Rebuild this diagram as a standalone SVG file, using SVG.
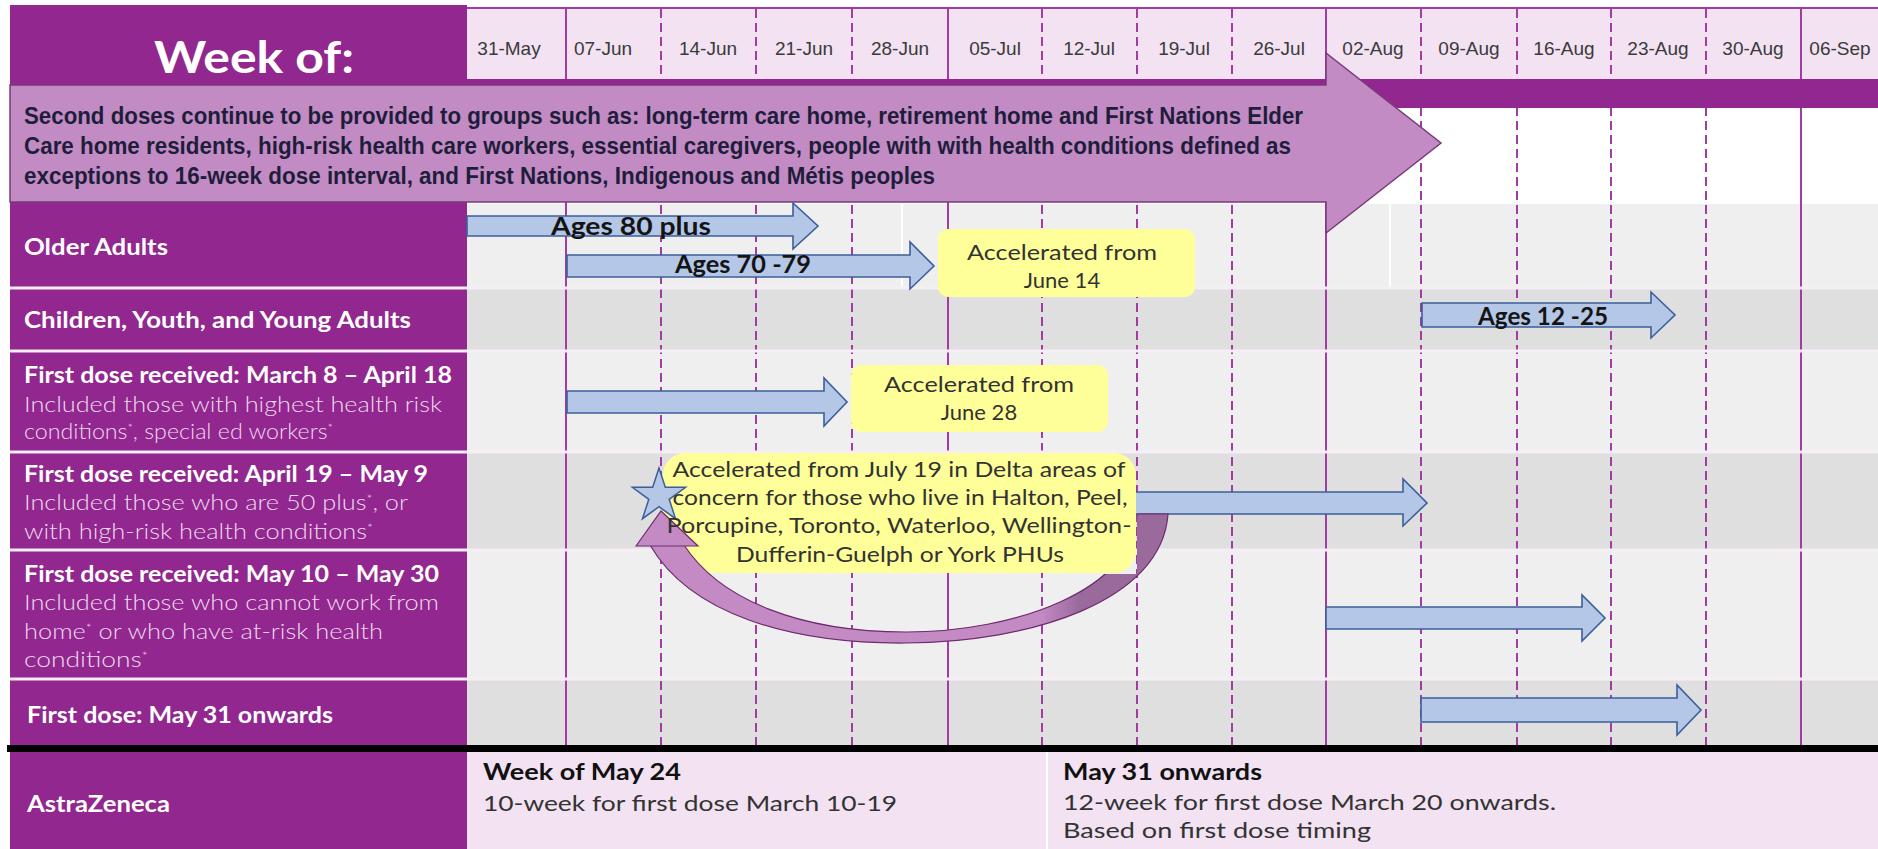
<svg xmlns="http://www.w3.org/2000/svg" width="1878" height="849" viewBox="0 0 1878 849">
<defs>
<style>
.lab{font-family:Lato,"Liberation Sans",sans-serif;font-weight:700;font-size:22px;fill:#ffffff}
.sub{font-family:Lato,"Liberation Sans",sans-serif;font-weight:300;font-size:22px;fill:#ecdaec}
.sup{font-size:12px;baseline-shift:super}
.date{font-family:"Liberation Sans",Arial,sans-serif;font-size:19px;fill:#3a3a3a;text-anchor:middle}
.vd{stroke:#a43aa4;stroke-width:2;stroke-dasharray:9 5;fill:none}
.vs{stroke:#a43aa4;stroke-width:2;fill:none}
.bar{fill:#b4c7e7;stroke:#3b5f9a;stroke-width:1.6}
.bt{font-family:Lato,"Liberation Sans",sans-serif;font-weight:700;font-size:24px;fill:#141414;text-anchor:middle}
.note{fill:#ffff99}
.nt{font-family:Lato,"Liberation Sans",sans-serif;font-size:22px;fill:#333333;text-anchor:middle}
.sd{font-family:"Liberation Sans",Arial,sans-serif;font-weight:700;font-size:23px;fill:#1e1e3c}
.az{font-family:Lato,"Liberation Sans",sans-serif;font-size:22px;fill:#333333}
.azb{font-family:Lato,"Liberation Sans",sans-serif;font-size:22px;font-weight:700;fill:#111111}
.sep{stroke:#f6eef6;stroke-width:3}
</style>
<linearGradient id="curveGrad" gradientUnits="userSpaceOnUse" x1="1040" y1="0" x2="1080" y2="0">
<stop offset="0" stop-color="#c48ac4"/><stop offset="1" stop-color="#9a6a9c"/>
</linearGradient>
<clipPath id="curveClip">
<rect x="0" y="0" width="900" height="849"/>
<rect x="900" y="574" width="240" height="275"/>
<rect x="1137" y="0" width="741" height="849"/>
</clipPath>
</defs>
<rect x="0" y="0" width="1878" height="849" fill="#ffffff"/>

<g id="grid">
<rect x="467" y="9" width="1411" height="70" fill="#f2e2f2"/>
<line x1="467" y1="8" x2="1878" y2="8" stroke="#a43aa4" stroke-width="2"/>
<rect x="467" y="204" width="1411" height="84" fill="#efefef"/>
<rect x="467" y="288" width="1411" height="63" fill="#dfdfdf"/>
<rect x="467" y="351" width="1411" height="101" fill="#efefef"/>
<rect x="467" y="452" width="1411" height="98" fill="#dfdfdf"/>
<rect x="467" y="550" width="1411" height="129" fill="#efefef"/>
<rect x="467" y="679" width="1411" height="66" fill="#dfdfdf"/>
<line x1="902" y1="204" x2="902" y2="288" stroke="#ffffff" stroke-width="2"/>
<line x1="1390" y1="204" x2="1390" y2="288" stroke="#ffffff" stroke-width="2"/>
<line class="vs" x1="566" y1="9" x2="566" y2="745"/>
<line class="vd" x1="661" y1="9" x2="661" y2="745"/>
<line class="vd" x1="756" y1="9" x2="756" y2="745"/>
<line class="vd" x1="852" y1="9" x2="852" y2="745"/>
<line class="vs" x1="948" y1="9" x2="948" y2="745"/>
<line class="vd" x1="1042" y1="9" x2="1042" y2="745"/>
<line class="vd" x1="1137" y1="9" x2="1137" y2="745"/>
<line class="vd" x1="1232" y1="9" x2="1232" y2="745"/>
<line class="vs" x1="1326" y1="9" x2="1326" y2="745"/>
<line class="vd" x1="1421" y1="9" x2="1421" y2="745"/>
<line class="vd" x1="1517" y1="9" x2="1517" y2="745"/>
<line class="vd" x1="1611" y1="9" x2="1611" y2="745"/>
<line class="vd" x1="1706" y1="9" x2="1706" y2="745"/>
<line class="vs" x1="1801" y1="9" x2="1801" y2="745"/>
</g>

<g id="left-panel">
<rect x="10" y="5" width="457" height="743" fill="#92278f"/>
<rect x="10" y="79" width="1868" height="29" fill="#92278f"/>
<line class="sep" x1="10" y1="288" x2="1878" y2="288"/>
<line class="sep" x1="10" y1="351" x2="1878" y2="351"/>
<line class="sep" x1="10" y1="452" x2="1878" y2="452"/>
<line class="sep" x1="10" y1="550" x2="1878" y2="550"/>
<line class="sep" x1="10" y1="679" x2="1878" y2="679"/>
<text x="254" y="73" text-anchor="middle" font-family="Lato, 'Liberation Sans', sans-serif" font-weight="700" font-size="44" fill="#ffffff" textLength="200" lengthAdjust="spacingAndGlyphs">Week of:</text>
</g>

<g id="dates">
<text class="date" x="509" y="55">31-May</text>
<text class="date" x="603" y="55">07-Jun</text>
<text class="date" x="708" y="55">14-Jun</text>
<text class="date" x="804" y="55">21-Jun</text>
<text class="date" x="900" y="55">28-Jun</text>
<text class="date" x="995" y="55">05-Jul</text>
<text class="date" x="1089" y="55">12-Jul</text>
<text class="date" x="1184" y="55">19-Jul</text>
<text class="date" x="1279" y="55">26-Jul</text>
<text class="date" x="1373" y="55">02-Aug</text>
<text class="date" x="1469" y="55">09-Aug</text>
<text class="date" x="1564" y="55">16-Aug</text>
<text class="date" x="1658" y="55">23-Aug</text>
<text class="date" x="1753" y="55">30-Aug</text>
<text class="date" x="1840" y="55">06-Sep</text>
</g>

<g id="second-doses">
<path d="M10 85 H1326 V53 L1441 143 L1326 233 V202 H10 Z" fill="#c38bc3" stroke="#7b3a7b" stroke-width="1.5"/>
<text class="sd" x="24" y="124" textLength="1279" lengthAdjust="spacingAndGlyphs">Second doses continue to be provided to groups such as: long-term care home, retirement home and First Nations Elder</text>
<text class="sd" x="24" y="154" textLength="1267" lengthAdjust="spacingAndGlyphs">Care home residents, high-risk health care workers, essential caregivers, people with with health conditions defined as</text>
<text class="sd" x="24" y="184" textLength="911" lengthAdjust="spacingAndGlyphs">exceptions to 16-week dose interval, and First Nations, Indigenous and Métis peoples</text>
</g>

<g id="row-older-adults">
<text class="lab" x="24" y="255" textLength="144" lengthAdjust="spacingAndGlyphs">Older Adults</text>
<path class="bar" d="M467 216 H793 V203 L818 226 L793 249 V236 H467 Z"/>
<text class="bt" x="631" y="235" textLength="160" lengthAdjust="spacingAndGlyphs">Ages 80 plus</text>
<path class="bar" d="M567 255 H910 V242 L934 266 L910 289 V277 H567 Z"/>
<text class="bt" x="743" y="273" textLength="136" lengthAdjust="spacingAndGlyphs">Ages 70 -79</text>
<rect class="note" x="938" y="229" width="257" height="68" rx="10"/>
<text class="nt" x="1062" y="260" textLength="190" lengthAdjust="spacingAndGlyphs">Accelerated from</text>
<text class="nt" x="1062" y="288">June 14</text>
</g>

<g id="row-children">
<text class="lab" x="24" y="328" textLength="387" lengthAdjust="spacingAndGlyphs">Children, Youth, and Young Adults</text>
<path class="bar" d="M1422 303 H1651 V292 L1675 315 L1651 338 V327 H1422 Z"/>
<text class="bt" x="1543" y="325" textLength="130" lengthAdjust="spacingAndGlyphs">Ages 12 -25</text>
</g>

<g id="row-march">
<text class="lab" x="24" y="383" textLength="428" lengthAdjust="spacingAndGlyphs">First dose received: March 8 – April 18</text>
<text class="sub" x="24" y="412" textLength="418" lengthAdjust="spacingAndGlyphs">Included those with highest health risk</text>
<text class="sub" x="24" y="439" textLength="309" lengthAdjust="spacingAndGlyphs">conditions<tspan class="sup">*</tspan>, special ed workers<tspan class="sup">*</tspan></text>
<path class="bar" d="M567 391 H824 V378 L847 402 L824 426 V413 H567 Z"/>
<rect class="note" x="851" y="365" width="257" height="67" rx="10"/>
<text class="nt" x="979" y="392" textLength="190" lengthAdjust="spacingAndGlyphs">Accelerated from</text>
<text class="nt" x="979" y="420">June 28</text>
</g>

<g id="row-april">
<text class="lab" x="24" y="482" textLength="404" lengthAdjust="spacingAndGlyphs">First dose received: April 19 – May 9</text>
<text class="sub" x="24" y="510" textLength="384" lengthAdjust="spacingAndGlyphs">Included those who are 50 plus<tspan class="sup">*</tspan>, or</text>
<text class="sub" x="24" y="539" textLength="349" lengthAdjust="spacingAndGlyphs">with high-risk health conditions<tspan class="sup">*</tspan></text>
<path class="bar" d="M1100 492 H1403 V479 L1427 503 L1403 526 V514 H1100 Z"/>
<rect class="note" x="663" y="453" width="473" height="120" rx="22"/>
</g>

<g id="connectors">
<path d="M650 545 C690 614 790 644 906 643 C1030 642 1162 602 1168 514 L1137 514 C1134 590 1015 632 906 632 C800 632 720 600 684 545 Z" fill="url(#curveGrad)" stroke="#6e2a6e" stroke-width="1.2" clip-path="url(#curveClip)"/>
<path d="M636 546 L661 511 L698 546 Z" fill="#c48ac4" stroke="#6e2a6e" stroke-width="1.2"/>
</g>

<g id="delta-note">
<path d="M659 468 L665.3 487.3 L685.6 487.3 L669.2 499.3 L675.5 518.7 L659 506.7 L642.5 518.7 L648.8 499.3 L632.4 487.3 L652.7 487.3 Z" fill="#b4c7e7" stroke="#3b5f9a" stroke-width="1.5"/>
<text class="nt" x="899" y="477" textLength="453" lengthAdjust="spacingAndGlyphs">Accelerated from July 19 in Delta areas of</text>
<text class="nt" x="900" y="505" textLength="455" lengthAdjust="spacingAndGlyphs">concern for those who live in Halton, Peel,</text>
<text class="nt" x="899" y="533" textLength="465" lengthAdjust="spacingAndGlyphs">Porcupine, Toronto, Waterloo, Wellington-</text>
<text class="nt" x="900" y="562" textLength="328" lengthAdjust="spacingAndGlyphs">Dufferin-Guelph or York PHUs</text>
</g>

<g id="row-may10">
<text class="lab" x="24" y="582" textLength="415" lengthAdjust="spacingAndGlyphs">First dose received: May 10 – May 30</text>
<text class="sub" x="24" y="610" textLength="415" lengthAdjust="spacingAndGlyphs">Included those who cannot work from</text>
<text class="sub" x="24" y="639" textLength="359" lengthAdjust="spacingAndGlyphs">home<tspan class="sup">*</tspan> or who have at-risk health</text>
<text class="sub" x="24" y="667" textLength="124" lengthAdjust="spacingAndGlyphs">conditions<tspan class="sup">*</tspan></text>
<path class="bar" d="M1326 607 H1582 V595 L1605 618 L1582 641 V629 H1326 Z"/>
</g>

<g id="row-may31">
<text class="lab" x="27" y="723" textLength="306" lengthAdjust="spacingAndGlyphs">First dose:  May 31 onwards</text>
<path class="bar" d="M1421 698 H1677 V685 L1701 710 L1677 735 V722 H1421 Z"/>
</g>

<g id="row-astrazeneca">
<rect x="7" y="745" width="1871" height="7" fill="#000000"/>
<rect x="10" y="752" width="457" height="97" fill="#92278f"/>
<rect x="467" y="752" width="1411" height="97" fill="#f2e2f2"/>
<line x1="1047" y1="752" x2="1047" y2="849" stroke="#ffffff" stroke-width="2"/>
<text class="lab" x="27" y="812" textLength="143" lengthAdjust="spacingAndGlyphs">AstraZeneca</text>
<text class="azb" x="483" y="780" textLength="198" lengthAdjust="spacingAndGlyphs">Week of May 24</text>
<text class="az" x="483" y="811" textLength="414" lengthAdjust="spacingAndGlyphs">10-week for first dose March 10-19</text>
<text class="azb" x="1063" y="780" textLength="199" lengthAdjust="spacingAndGlyphs">May 31 onwards</text>
<text class="az" x="1063" y="810" textLength="493" lengthAdjust="spacingAndGlyphs">12-week for first dose March 20 onwards.</text>
<text class="az" x="1063" y="838" textLength="308" lengthAdjust="spacingAndGlyphs">Based on first dose timing</text>
</g>
</svg>
